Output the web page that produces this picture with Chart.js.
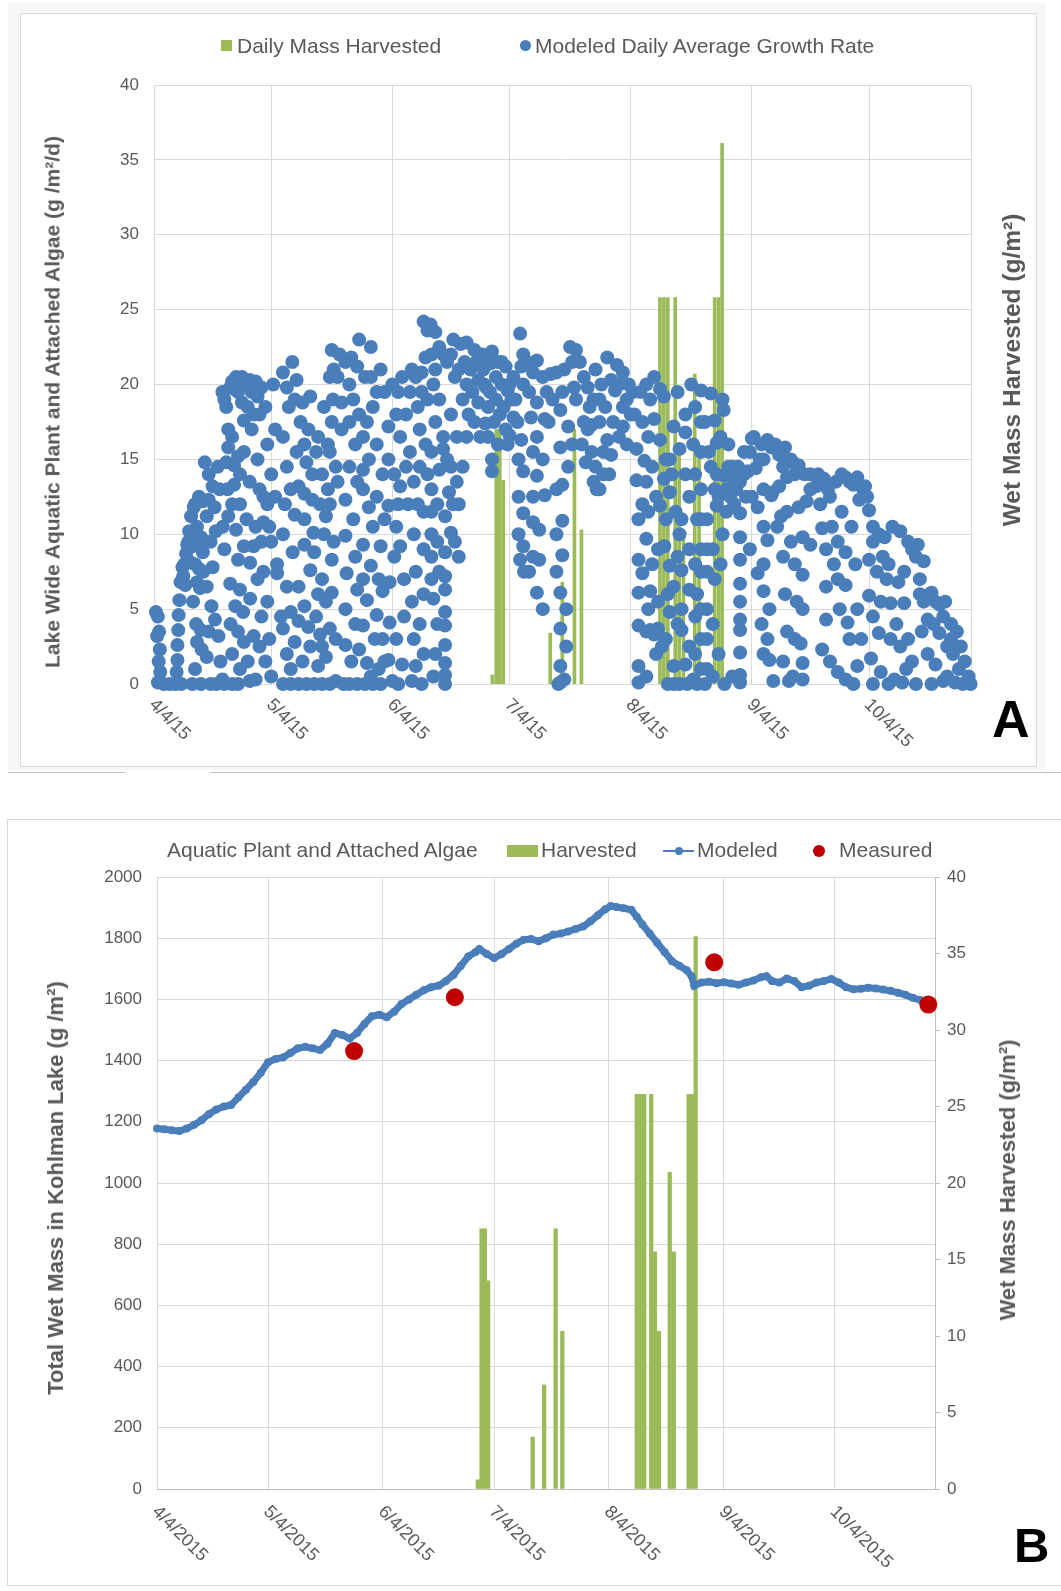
<!DOCTYPE html>
<html><head><meta charset="utf-8">
<script src="https://cdn.jsdelivr.net/npm/chart.js@4.4.1/dist/chart.umd.min.js"></script>
<style>
body{margin:0;width:1061px;height:1591px;position:relative;background:#fff;font-family:"Liberation Sans",Arial,sans-serif;overflow:hidden}
.abs{position:absolute}
.txt{position:absolute;white-space:nowrap;color:#595959;line-height:1;font-size:21px}
.vt{position:absolute;white-space:nowrap;color:#595959;font-weight:bold;transform:translate(-50%,-50%) rotate(-90deg);line-height:1}
.big{position:absolute;white-space:nowrap;color:#000;font-weight:bold;line-height:1}
canvas{position:absolute;left:0}
</style></head><body>
<div class="abs" style="left:8px;top:3px;width:1038px;height:767px;background:#F7F7F7"></div>
<div class="abs" style="left:20px;top:13px;width:1015px;height:752px;background:#fff;border:1px solid #D9D9D9"></div>
<div class="abs" style="left:8px;top:772px;width:117px;height:1px;background:#BFBFBF"></div>
<div class="abs" style="left:210px;top:772px;width:851px;height:1px;background:#BFBFBF"></div>
<div class="abs" style="left:7px;top:819px;width:1060px;height:765px;border:1px solid #D9D9D9;background:#fff"></div>
<canvas id="ca" width="1061" height="770" style="top:0"></canvas>
<canvas id="cb" width="1061" height="791" style="top:800px"></canvas>

<!-- Panel A legend -->
<div class="abs" style="left:221px;top:40px;width:11px;height:11px;background:#9BBB59"></div>
<div class="txt" style="left:237px;top:35px">Daily Mass Harvested</div>
<div class="abs" style="left:520px;top:40px;width:11px;height:11px;border-radius:50%;background:#4A7EBB"></div>
<div class="txt" style="left:535px;top:35px">Modeled Daily Average Growth Rate</div>
<div class="vt" style="left:52px;top:402px;font-size:21px">Lake Wide Aquatic Plant and Attached Algae (g /m²/d)</div>
<div class="vt" style="left:1012px;top:370px;font-size:24.5px">Wet Mass Harvested (g/m²)</div>
<div class="big" style="left:992px;top:693px;font-size:52px">A</div>

<!-- Panel B legend -->
<div class="txt" style="left:167px;top:839px">Aquatic Plant and Attached Algae</div>
<div class="abs" style="left:507px;top:845px;width:31px;height:12px;background:#9BBB59"></div>
<div class="txt" style="left:541px;top:839px">Harvested</div>
<div class="abs" style="left:663px;top:850px;width:31px;height:2px;background:#4A7EBB"></div>
<div class="abs" style="left:675px;top:847px;width:8px;height:8px;border-radius:50%;background:#4A7EBB"></div>
<div class="txt" style="left:697px;top:839px">Modeled</div>
<div class="abs" style="left:813px;top:845px;width:12px;height:12px;border-radius:50%;background:#C00000"></div>
<div class="txt" style="left:839px;top:839px">Measured</div>
<div class="vt" style="left:56px;top:1188px;font-size:22px">Total Wet Mass in Kohlman Lake (g /m²)</div>
<div class="vt" style="left:1008px;top:1180px;font-size:22px">Wet Mass Harvested (g/m²)</div>
<div class="big" style="left:1014px;top:1521px;font-size:49px">B</div>

<script>
// ---- data ----
const tickDays = [0, 30, 61, 91, 122, 153, 183];
const tickLabelsA = ['4/4/15','5/4/15','6/4/15','7/4/15','8/4/15','9/4/15','10/4/15'];
const tickLabelsB = ['4/4/2015','5/4/2015','6/4/2015','7/4/2015','8/4/2015','9/4/2015','10/4/2015'];

const harvestDays = [86.6,87.6,88.5,89.4,101.4,104.5,107.6,109.4,129.5,130.5,131.5,133.4,134.4,135.5,138.4,139.5,143.5,144.5,145.4];
const harvestMass = [0.6,17,17,13.6,3.4,6.8,17,10.3,25.8,25.8,25.8,25.8,15.5,10.3,20.7,15.5,25.8,25.8,36.1];

const growthPoints = [
[0.5,4.8],[1,4.5],[1.3,3.5],[0.8,3.2],[1.5,2.3],[1.2,1.5],[1.6,0.8],[1,0.1],[2.5,0],[4,0],[5.5,0],[7,0],[5.8,0.8],[6,1.6],[6,2.6],[6.2,3.6],[6.3,4.6],[6.5,5.6],[6.8,6.8],[7.5,7.2],[7.8,8],[8.2,8.7],[8.5,9.3],[8.8,9.5],[8,6.6],[7.3,7.8],[8.9,8.2],
[9.5,11.2],[10.5,12],[11.5,12.5],[12.5,12.2],[14,12.3],[15.5,11.8],[11,10.5],[12,9.8],[12.5,8.8],[13,9.5],[12.6,7.5],[13.5,6.5],[14.7,5.2],[15.6,4.3],[16.5,3.2],[17,1.5],[17.5,0.3],[14.5,0],[16,0],[18,0],[20,0],[21.5,0],[13,14.8],[14,14],[15,13.2],[10.2,11.8],[13.5,11.2],[11.5,7.7],[11.8,6.4],[12,3.6],[12.2,2.3],
[9,10.2],[9.8,9.2],[10.5,8],[11,6.8],[10,5.5],[10.8,4],[11,2.8],[10.5,1],[9.8,0],[12,0],[13.5,1.8],[14,3.5],[15,7.8],[14.5,9.5],[15.8,10.2],[16.3,14.5],[16.8,13],
[17.5,19.5],[18.5,18.5],[19,17],[20,16.5],[20.5,19.7],[21,20.5],[22.5,20.5],[24.5,20.3],[26,20.2],[27.5,19.8],[22.5,18.8],[23,17.6],[18.5,14.8],[20.5,14.6],[18.8,13],[20.5,13.3],[17.6,10.5],[21,10.3],[18,9],[19.5,6.7],[22,6.3],[19.6,4],[21.5,3.5],[20,2],[24,1.5],[24.6,5.7],[24.6,8.1],[23.7,11],[26,10.5],[24.5,13.5],[28,12.5],[25,17],[27,18],[29,16],[27,13],[29,12],[29.5,10.5],[30,9.5],[31.5,8],[30.5,20],[22,12],[23,15.5],[26.5,15],[21.5,8.3],[25.5,3.2],[27.5,4.5],[28.5,1.5],[26,0.3],[29,5.5],[28,7.5],[30,0.5],
[18,19],[19.5,19.8],[20,20.2],[21.5,19.5],[23.5,20],[25,19.5],[26.5,19.2],[28.5,18.5],[24,18.5],[25.5,18],[19,15.8],[21.5,15.2],[22,14],[20,12],[19,11.2],[23,9.2],[25.5,9.2],[20.8,5.2],[22.8,4.8],[23,2.8],[22,1],[24.5,0.2],[27.5,9.5],[26.5,7],[27,2.5],[29.5,3],[28,10.8],[30,14],[31,12.5],[31,17],
[32.5,4.5],[33,3.7],[34,2],[35,1],[33,0],[35,0],[37,0],[39,0],[41,0],[43,0],[45,0],[46.5,0.2],[35.4,21.5],[36.5,20.3],[34.5,18.5],[37.5,17.5],[39.5,17],[34,14.5],[37,13.2],[36,11.3],[38.5,11],[38.5,12.7],[40.5,12.3],[38.5,9.3],[40.8,10.1],[40,7.6],[43,7],[38.5,5.2],[41.5,4.5],[43.5,10],[46,9.5],[45.5,8.3],[45.5,6.1],[45,3.7],[46.5,3],[31.5,7.4],[34,6.5],[36,2.8],[38,1.5],[40,2.5],[42,1.2],[44,1.8],[41.5,15.5],[43,14],[42,16.5],[36.5,15.5],[39,14.8],[33,10],[35.5,8.8],[37,6.5],[42.5,3.3],[44,5.5],[40,19.2],[38,18.8],[43.5,18.5],
[33,20.8],[34,19.8],[36,19],[38.5,16],[40.5,14],[42.5,12],[44,11.2],[44.5,13],[45,12],[41,8.8],[42,6],[39.5,3.8],[37,4.2],[35,4.8],[33.5,12],[35,13],[33,16.5],[44.5,16],[45,20.5],[43,2.5],
[45.5,22.3],[46,21],[45.8,19],[48,18.8],[45.5,17.5],[48,17],[45,15.5],[46.5,14.5],[47,13.5],[49,12.3],[49,9.9],[49.3,7.4],[49,5],[49,2.6],[48.5,0],[50,0],[52,0],[54,0],[56,0],[58,0],[52.5,23],[55.5,22.5],[58,21],[59,19.5],[56,18.5],[52.5,18],[54.5,17.5],[53.5,16.5],[55,15],[53.5,14.3],[53.5,13],[57,12.5],[56,10.5],[53.5,9.3],[55.5,7.9],[53.5,7],[54.5,5.6],[57,4.6],[53.5,3.9],[56.5,3],[54.5,1.4],[57.5,1],[47,20.5],[50,20],[51,11],[51.5,8.5],[52,6.3],[50.5,1.5],[57,16],[58.5,14],[58,9.2],[58.5,6.2],
[47.5,22],[49,21.5],[50.5,21.8],[52,21.2],[54,20.5],[55.5,20.5],[57,19.5],[51,19],[50,17.5],[51.5,16],[50,14.5],[52,13.5],[55,11.8],[51.5,4],[52.5,2.3],[55.5,0.5],[58.5,3],[59,1.5],[57.5,7],[59,11],
[60,17.2],[63,16.5],[64.5,14.5],[63,13.2],[60,11.9],[62,10.5],[63,9.2],[60.3,6.8],[60.3,4.1],[62,3],[60,1.6],[61,0.2],[62.5,0],[69,24.2],[70,23.6],[66,21],[67,20.5],[65.5,19.5],[67.5,18.5],[68,17],[68,14.5],[69,11.5],[69,9],[69,6],[61,20],[62.5,19.5],[60,15],[65,12],[66.5,10],[67,7.5],[66,5.5],[66.5,3],[67,1.2],[66,0.2],[68.5,0],[61.5,8.5],[64,7],[64,4.5],[63.5,1.3],[68.5,20.8],[69.5,21.8],[68.5,19.5],
[63.5,20.5],[62,18],[64.5,18],[61.5,14],[65.5,15.5],[66.5,13.5],[67.5,12],[62.5,12],[68,4],[69,2],[69.5,16],[70,19],[70,14],
[70.8,24],[72,23.5],[71,22],[72,21],[71.5,20],[73,19],[72,17.5],[74,16.5],[71,15.5],[75,15],[73,14.3],[71,13],[71,11.5],[71,10],[71,8.5],[71,7],[71.5,5.7],[74,15.7],[76,14.5],[77.5,13.5],[78,12],[74.5,11.2],[74.5,8.8],[74.5,7.2],[74.5,6.3],[74.5,4.8],[74.5,3.9],[74.5,2.6],[74.5,1.4],[74.5,0.6],[74.5,0],[76,10.1],[78,8.5],[76.6,23],[78.5,22.7],[80,22.8],[82,22.3],[84,22],[86,21.4],[87.5,20.5],[81,21],[83,20.3],[85,19.8],[79,19],[80.5,18],[77,20.5],[75,21.5],[73,22.5],[79.5,21.5],[82.5,21.5],[76,18],[77.5,16.5],
[74,22],[76,22],[78,21],[80,20],[81.5,19.5],[83,18.8],[84.5,20],[86.5,22.2],[88,21.5],[90,21.2],[91,20],[92.5,19],[72.5,12],[72.5,9.5],[73,7.5],[72.5,4],[72,2],[71.5,0.5],[75.5,12.8],[76.5,12],[77,9.5],[79,14.5],[80,16.5],[82,17.5],[83.5,16.5],[85.5,16.5],[87,17.5],[89.5,18.5],[92,17.8],[85.5,18.5],
[84.3,21],[86,19.5],[87.5,19],[88.5,18],[90,17],[91,16.6],[89,20],[90.5,19.6],[84.8,17.4],[88,16],[90.5,16],[86.5,15],[86.5,14.2],[91.5,19],[93,17.5],[94,16.3],[89,21.5],[92,20.5],
[93.7,23.4],[94.5,22],[94,21.2],[94.5,20],[93.3,15],[94.5,14.2],[93.3,12.5],[94.5,11.4],[93.3,10],[94.5,9.2],[93.7,8.3],[94.7,7.5],[98,21.6],[99.5,20.5],[98,18.8],[100,17.7],[98,16.5],[99.5,15],[98,13.9],[100,12.6],[98.6,10.3],[98.6,8.3],[98,6.1],[99.5,5],[96,19.5],[96.5,17.8],[97,15.5],[101.5,20.7],[102,19],
[95.5,21.5],[97,20.8],[100.5,19.5],[101,17.5],[105,21],[107,21.5],[108,22.3],[111,19.8],[112.5,19],[114,19],[115.5,18.5],[117,20.3],[119,20],[121,19],[122.5,19.5],[117.5,17.5],[121,16],[109.5,16],[110.5,14.8],[114,13],[116.5,14],[103,13],[103,10],[103,7.5],[105.5,5],[105.5,2.5],[97,10.8],[97,8.5],[97,12.5],[96,7.5],
[103,20.8],[104.5,19.5],[104,18.3],[106,17.2],[104,15.8],[104.5,13.3],[104.5,10.9],[104.5,8.6],[104,6.1],[104,3.7],[104,1.2],[104,0.1],[103.5,0],[105,0.3],[106.5,22.5],[109,21.5],[110,20.5],[107.5,19.8],[108,19],[110,17.5],[112,17.3],[111,17],[112,15.5],[113,14.5],[115,14],[112.5,13.5],[113.3,13],[107,16],[106,14.5],
[111.5,18.5],[114,17.5],[116,16.3],[116,21.8],[118.5,21.3],[120,20.8],[121.5,20],[118,19.6],[120,18.5],[122,18],[120,17.2],[113,21],[114.5,20],[117,15.3],[119,16.5],[115,15.5],
[123.5,15.7],[125.5,14.9],[123.5,13.6],[125,12],[124,11],[126,9.7],[124,8.3],[125,7.4],[124,6.1],[126.5,5],[124,3.9],[128,3.3],[124,1.2],[124,0.1],[128,20.5],[129.5,19.7],[128,17.7],[129.5,16.3],[131,15],[130.5,13.7],[129.5,11.9],[131,11],[130.6,9.2],[132,7.9],[131.5,6],[132,4.8],[131,3],[133,1.2],[131.5,0],[133,0],[134.5,0],[130.5,19.2],[133,17.2],[132,15],[132,12.8],[134,19.5],[136,18],[136,16.8],[134.5,15.7],[136,14],[137,12.5],[135,11],[134.5,10],[137,9],[135,7.6],[137,6.3],[135,5],[135,3.6],[137,2.5],[136,1.3],[138,0.3],[139,0],[126,3.5],[127,3.6],[129,3.7],[127.5,8],[129,9],[126.5,11.5],[126,13.5],[127,6.2],[129,5.5],[128.5,2],[126,0.5],[136.5,0],[137.5,20],[138.5,18.5],[138.5,14],[138.5,8],[138.5,4.5],[139,11],
[123,18],[124.5,19.5],[126,20],[127,19],[125,17.5],[126.5,16.5],[127.5,14.5],[128.5,12.5],[130,2.5],[132.5,14],[133.5,11.5],[134,8.5],[133,6.5],[134,4],[138,16],[139,6],[138.5,2],
[140,19.6],[140,17.5],[140,15.5],[140,13],[140,11],[140,9],[140,7.5],[140,5],[140,3],[140,1],[142.5,19.4],[143.5,17.6],[145,16.5],[144,16.1],[142.5,14.5],[144,14],[146,13.9],[148,13.8],[150,13.5],[151,14],[144,11.9],[145.5,10],[141.5,11],[141.5,9],[141.5,7.5],[141.5,5],[141.5,3],[141.5,1],[150,11.4],[150,9.8],[150,8.3],[150,6.7],[150,5.5],[150,4.3],[150,3.6],[150,2.1],[150,0.6],[150,0.1],[141,0],[143,0.5],[145.5,19],[145.8,18.3],[147,14.5],[149,13],[147.5,12.5],[152,14.2],[146.5,11.5],[148.5,12],
[141,17.5],[142,15.5],[143.5,13],[144.5,12.5],[146.5,13],[148,14.5],[149.5,14.5],[151.5,12.5],[143,9],[143.5,7],[145,8],[143,4],[144.5,2],[146,0],[148,0.5],[151,15.5],[152.5,15.5],[147,16],
[153.5,16.5],[155,15],[153,16.4],[155.5,16],[158,15.8],[160,15.3],[156,15],[154,14.4],[156,13],[158,12.6],[160,13.2],[154.5,11.8],[156,10.5],[157,9.6],[156,8],[158.3,12.8],[159.5,10.5],[154.5,7.4],[156,6.2],[157.5,5],[155.5,4],[157,3],[156,2],[157.5,1.6],[158.5,0.2],[161,14.5],[162,13.8],[160.5,11.2],[161,8.5],[161.5,6],[162,3.5],[161,1.5],[162.5,0.2],[153,12.5],[152.5,9],
[157,16.3],[159,16],[161.5,15.8],[163,15],[162,11.5],[163,9.5],[164,8],[164.5,5.5],[164,3],[163.5,0.5],
[165,14.6],[166.5,14],[168,13],[167,12.2],[165,11.8],[166,9.8],[168,9.3],[166,7.3],[166,5],[165.5,2.7],[166,1.4],[166,0.3],[169.5,13.2],[171,10.4],[172,9],[172,6.5],[172,4.3],[171,2.3],[173,1.5],[175,0.8],[177,0.3],[174.5,13.5],[177,13.8],[179,13.3],[180.5,12.3],[176,11.5],[175,9.5],[177,8.8],[175,7],[177,6.6],[175.5,5],[177.5,4.1],[163.5,14.8],[164,14],[170,14],[171.5,13.7],[173,12.5],[179,0],[180,1.2],[178,3],
[168,14],[170.5,12],[172.5,13],[176,14],[178,13.5],[180,13.8],[181.5,13],[173.5,10.5],[174,8],[178.5,10.5],[179.5,8],[180,5],[181,3],
[183,11.6],[184,9.5],[183,8.3],[185,7.5],[183,5.9],[186,5.5],[188.5,5.4],[184,4.5],[185.5,3.4],[183.5,1.7],[186,0.8],[189.5,0.3],[191.5,0.1],[189,10.5],[191,10.2],[193,9.5],[195,8.5],[192,7.5],[188,8],[190.5,6.8],[192,5.4],[198.5,6],[199,6.1],[201,5.3],[202,4.5],[198,4.3],[201,3.4],[203,2.5],[198,2],[200,1.3],[203,0.5],[205,0.1],[207,0],[209,0],[182,13.2],[182.5,12.5],[187,9.8],[194,9],[196,7],[197,5.5],[196.5,3.5],[199.5,4],[204,3],[204.5,2],[206,1],[193,3],[194,1.5],[195,0],[188,0],[184,0],
[184,10.5],[185.5,10],[186.5,8.5],[187.5,7],[188.5,3],[190,4],[191,2.5],[192.5,1],[195.5,9.3],[197,8.2],[196,6],[200,5.5],[202.5,5.5],[204,4],[205.5,3.5],[206.5,2.5],[207.5,1.5],[208.5,0.5],[202,0.2],[199,0]
];

const modeledDays = [0,2,4,6,8,10,12,14,16,18,20,22,24,26,28,30,32,34,36,38,40,42,44,46,48,50,52,54,56,58,60,62,64,66,68,70,72,74,76,78,80,82,84,86,87,89,91,93,95,97,99,101,103,105,107,109,111,113,115,117,119,121,122.5,124,126,128,129.5,131,133,135,137,139,141,143,144.3,145,147,149,151,153,155,157,159,161,163,164.5,166,168,170,172,174,176,178,180,182,184,186,188,190,192,194,196,198,200,202,204,206,208];
const modeledMass = [1178,1176,1172,1170,1178,1190,1205,1225,1240,1250,1255,1280,1305,1330,1360,1395,1405,1410,1425,1440,1445,1440,1435,1455,1490,1484,1472,1490,1520,1545,1550,1542,1560,1585,1600,1615,1630,1640,1645,1660,1680,1710,1740,1755,1765,1748,1735,1748,1765,1782,1795,1797,1790,1800,1812,1815,1822,1830,1838,1855,1875,1895,1905,1902,1898,1893,1870,1845,1815,1785,1755,1725,1710,1695,1676,1645,1655,1658,1653,1656,1652,1648,1655,1662,1672,1676,1660,1655,1668,1660,1640,1645,1655,1660,1667,1655,1640,1633,1635,1638,1636,1632,1628,1622,1615,1605,1598,1588];

const measuredDays = [53.2, 80.4, 150.4, 208.2];
const measuredMass = [1431, 1607, 1721, 1583];

// ---- helpers ----
Chart.defaults.font.family = '"Liberation Sans", Arial, sans-serif';
Chart.defaults.color = '#595959';
const GRID = '#D9D9D9';
const xy = (xs, ys) => xs.map((x, i) => ({x, y: ys[i]}));
const setTicks = s => { s.ticks = tickDays.map(v => ({value: v})); };

function rotLabels(labels, dx, dy, font) {
  return {
    id: 'rotLabels',
    afterDraw(chart) {
      const ctx = chart.ctx, xs = chart.scales.x, b = chart.chartArea.bottom;
      ctx.save();
      ctx.font = font; ctx.fillStyle = '#595959';
      ctx.textAlign = 'left'; ctx.textBaseline = 'middle';
      tickDays.forEach((d, i) => {
        const px = xs.getPixelForValue(d);
        ctx.save();
        ctx.translate(px + dx, b + dy);
        ctx.rotate(Math.PI / 4);
        ctx.fillText(labels[i], 0, 0);
        ctx.restore();
      });
      ctx.restore();
    }
  };
}

// ---- Chart A ----
new Chart(document.getElementById('ca'), {
  type: 'bar',
  data: {
    datasets: [
      {type: 'scatter', label: 'Modeled Daily Average Growth Rate', data: growthPoints.map(p => ({x: p[0], y: p[1]})),
       yAxisID: 'y', backgroundColor: '#4A7EBB', borderColor: '#4A7EBB', borderWidth: 0, pointRadius: 7, clip: false, order: 1},
      {type: 'bar', label: 'Daily Mass Harvested', data: xy(harvestDays, harvestMass),
       yAxisID: 'y2', backgroundColor: '#9BBB59', barThickness: 3, order: 2}
    ]
  },
  options: {
    responsive: false, animation: false, devicePixelRatio: 1,
    layout: {padding: {top: 85, left: 0, right: 0, bottom: 0}},
    plugins: {legend: {display: false}, tooltip: {enabled: false}},
    scales: {
      x: {type: 'linear', min: 0, max: 209.1, offset: false, afterBuildTicks: setTicks,
          ticks: {display: false}, grid: {color: GRID, drawTicks: false, offset: false}, border: {color: GRID},
          afterFit: s => { s.height = 86; }},
      y: {position: 'left', min: 0, max: 40, ticks: {stepSize: 5, padding: 15, font: {size: 17}, color: '#595959'},
          grid: {color: GRID, drawTicks: false}, border: {display: false}, afterFit: s => { s.width = 154; }},
      y2: {position: 'right', min: 0, max: 40, ticks: {display: false}, grid: {display: false},
           border: {color: GRID}, afterFit: s => { s.width = 90; }}
    }
  },
  plugins: [rotLabels(tickLabelsA, -2, 18, '18px "Liberation Sans", Arial, sans-serif')]
});

// ---- Chart B ----
new Chart(document.getElementById('cb'), {
  type: 'bar',
  data: {
    datasets: [
      {type: 'scatter', label: 'Measured', data: xy(measuredDays, measuredMass), yAxisID: 'y',
       backgroundColor: '#C00000', borderColor: '#C00000', borderWidth: 0, pointRadius: 9, clip: false, order: 1},
      {type: 'line', label: 'Modeled', data: xy(modeledDays, modeledMass), yAxisID: 'y',
       borderColor: '#4A7EBB', backgroundColor: '#4A7EBB', borderWidth: 7, pointRadius: 4, pointBorderWidth: 0,
       tension: 0, fill: false, clip: false, order: 2},
      {type: 'bar', label: 'Harvested', data: xy(harvestDays, harvestMass), yAxisID: 'y2',
       backgroundColor: '#9BBB59', barThickness: 3.6, order: 3}
    ]
  },
  options: {
    responsive: false, animation: false, devicePixelRatio: 1,
    layout: {padding: {top: 77, left: 0, right: 0, bottom: 0}},
    plugins: {legend: {display: false}, tooltip: {enabled: false}},
    scales: {
      x: {type: 'linear', min: 0, max: 210, offset: false, afterBuildTicks: setTicks,
          ticks: {display: false}, grid: {color: GRID, drawTicks: false, offset: false}, border: {color: '#BFBFBF'},
          afterFit: s => { s.height = 102; }},
      y: {position: 'left', min: 0, max: 2000, ticks: {stepSize: 200, padding: 15, font: {size: 17}, color: '#595959', callback: v => String(v)},
          grid: {color: GRID, drawTicks: false}, border: {display: false}, afterFit: s => { s.width = 157; }},
      y2: {position: 'right', min: 0, max: 40, ticks: {stepSize: 5, padding: 7, font: {size: 17}, color: '#595959'},
           grid: {drawOnChartArea: false, drawTicks: true, tickLength: 5, color: '#BFBFBF'},
           border: {color: '#BFBFBF'}, afterFit: s => { s.width = 126; }}
    }
  },
  plugins: [rotLabels(tickLabelsB, -2, 20, '18px "Liberation Sans", Arial, sans-serif')]
});
</script>
</body></html>
